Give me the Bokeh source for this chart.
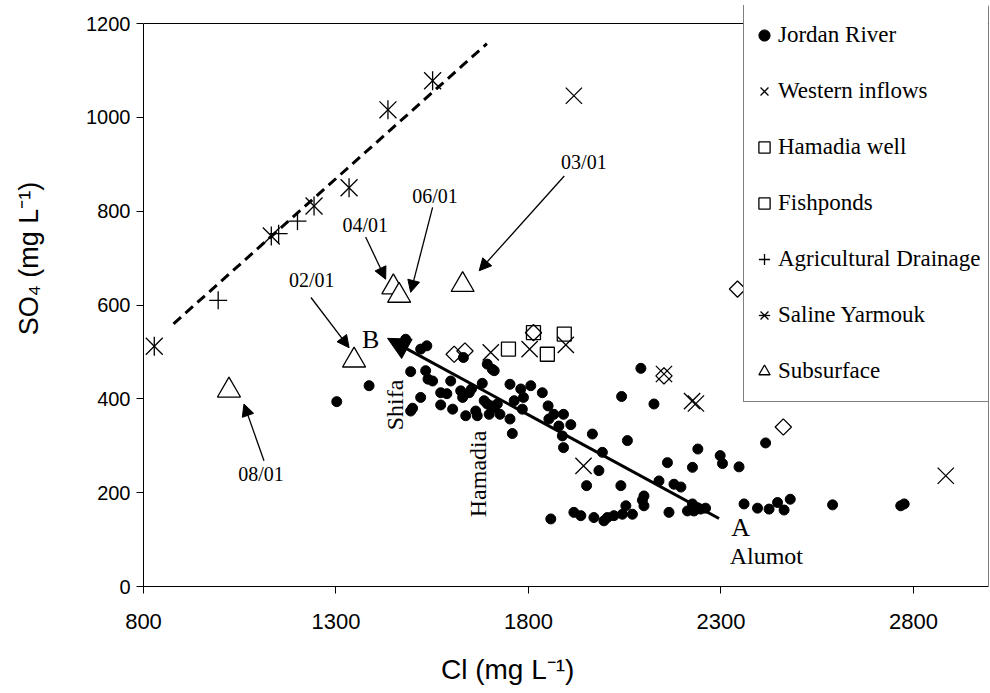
import math
from bokeh.plotting import figure
from bokeh.models import (Legend, LegendItem, Span, Arrow, NormalHead,
                          FixedTicker, Range1d)
from bokeh.core.properties import value
from bokeh.embed import file_html
from bokeh.resources import INLINE

# ---------------- data (Cl, SO4 in mg/L) ----------------
jr_cl = [1302, 1386, 1481, 1520, 1536, 1494, 1533, 1539, 1551, 1598, 1520, 1494,
         1499, 1572, 1588, 1572, 1603, 1624, 1629, 1646, 1652, 1637, 1663, 1667,
         1680, 1685, 1693, 1702, 1711, 1719, 1698, 1726, 1631, 1693, 1706, 1711,
         1752, 1780, 1806, 1787, 1763, 1752, 1758, 1836, 1851, 1784, 1866, 1853,
         1891, 1879, 1910, 1888, 1891, 1858,
         2092, 2042, 2126, 1966, 2057, 1992, 1983, 1951, 2040, 2161, 2240, 2226,
         2298, 2304, 2347, 2416, 2139, 2178, 2196, 2100, 2096, 2100, 2053, 2070,
         2044, 2022, 2005, 1996, 1970, 1936, 1918, 2165, 2213, 2226, 2239, 2247,
         2260, 2230, 2360, 2395, 2425, 2447, 2464, 2480, 2590, 2767, 2776]
jr_so4 = [394, 428, 527, 506, 513, 458, 460, 442, 438, 438, 403, 374,
          380, 413, 411, 387, 378, 417, 403, 413, 421, 364, 374, 364,
          433, 396, 389, 385, 381, 389, 367, 367, 488, 474, 463, 460,
          431, 421, 428, 403, 396, 357, 326, 413, 385, 378, 367, 357,
          367, 342, 345, 321, 296, 144,
          465, 405, 389, 325, 311, 286, 247, 215, 215, 264, 293, 254,
          279, 262, 255, 306, 225, 218, 212, 193, 184, 172, 172, 154,
          154, 151, 147, 140, 147, 151, 158, 158, 161, 176, 168, 165,
          167, 161, 176, 167, 165, 179, 163, 186, 174, 172, 176]

wi_cl = [1918, 1702, 1803, 1897, 1943, 2152, 2225, 2235, 2884]
wi_so4 = [1046, 499, 506, 515, 257, 453, 395, 390, 236]

hw_cl = [1748, 1849, 1813, 1893]
hw_so4 = [506, 495, 541, 538]

fp_cl = [1607, 1635, 1813, 2152, 2462, 2343]
fp_so4 = [495, 502, 541, 449, 340, 634]

ad_cl = [994, 1151, 1200]
ad_so4 = [610, 752, 779]

sy_cl = [828, 1132, 1243, 1334, 1435, 1551]
sy_so4 = [512, 747, 811, 850, 1016, 1078]

ss_cl = [1022, 1347, 1449, 1464, 1629]
ss_so4 = [418, 482, 638, 620, 643]

mix_cl = [878, 1692]          # dashed mixing line end points
mix_so4 = [560, 1157]

x_ticks = [800, 1300, 1800, 2300, 2800]
y_ticks = [0, 200, 400, 600, 800, 1000, 1200]
x_min, x_max = 800, 2995
y_min, y_max = 0, 1200

series_names = ["Jordan River", "Western inflows", "Hamadia well", "Fishponds",
                "Agricultural Drainage", "Saline Yarmouk", "Subsurface"]

date_labels = ["02/01", "04/01", "06/01", "03/01", "08/01"]
date_lx = [1237, 1376, 1557, 1944, 1105]
date_ly = [654, 771, 832, 904, 240]
date_ax0 = [1235, 1377, 1551, 1893, 1113]
date_ay0 = [616, 745, 808, 875, 268]
date_ax1 = [1334, 1429, 1494, 1672, 1061]
date_ay1 = [509, 655, 627, 673, 389]

# A -> B trend arrow
ab_start = (2295, 145)
ab_end = (1434, 529)

NB = "\u00a0"

# ---------------- figure ----------------
# frame reaches a little above 1200 so the legend box (which pokes above the
# 1200 line in the original) is not clipped; the 1200 border is drawn as a Span
p = figure(width=989, height=692, x_range=Range1d(x_min, x_max), y_range=Range1d(y_min, 1238.4),
           output_backend="svg", toolbar_location=None,
           min_border_left=143, min_border_right=1, min_border_top=5, min_border_bottom=106)
p.xgrid.visible = False
p.ygrid.visible = False
p.outline_line_color = None
p.background_fill_color = "white"

p.xaxis.ticker = FixedTicker(ticks=x_ticks)
p.yaxis.ticker = FixedTicker(ticks=y_ticks)
p.yaxis.bounds = (y_min, y_max)
for ax in (p.xaxis[0], p.yaxis[0]):
    ax.minor_tick_line_color = None
    ax.major_tick_in = 0
    ax.major_tick_out = 7
    ax.axis_line_color = "black"
    ax.major_tick_line_color = "black"
    ax.major_label_text_font = "Liberation Sans"
    ax.major_label_text_color = "black"
    ax.axis_label_text_font = "Liberation Sans"
    ax.axis_label_text_font_style = "normal"
    ax.axis_label_text_color = "black"
p.xaxis.major_label_text_font_size = "22px"
p.yaxis.major_label_text_font_size = "20px"
p.xaxis.major_label_standoff = 20
p.yaxis.major_label_standoff = 6

p.xaxis.axis_label = "Cl (mg L\u207b\u00b9)" + NB * 15
p.xaxis.axis_label_text_font_size = "28px"
p.xaxis.axis_label_standoff = 22
p.yaxis.axis_label = NB * 10 + "SO\u2084 (mg L\u207b\u00b9)"
p.yaxis.axis_label_text_font_size = "27px"
p.yaxis.axis_label_standoff = 39

# plot box: top and right borders
p.add_layout(Span(location=y_max, dimension="width", line_color="black", line_width=1))
p.add_layout(Span(location=x_max, dimension="height", line_color="black", line_width=1))

lw = 1.3
p.line(mix_cl, mix_so4, line_color="black", line_width=3, line_dash="10 6")

jr = p.scatter(jr_cl, jr_so4, marker="circle", size=10, fill_color="black", line_color="black")
hw = p.scatter(hw_cl, hw_so4, marker="square", size=14, fill_color=None, line_color="black", line_width=lw)
fp = p.scatter(fp_cl, fp_so4, marker="square", angle=math.pi / 4, size=11.5, fill_color=None,
               line_color="black", line_width=lw)
wi = p.scatter(wi_cl, wi_so4, marker="x", size=23, line_color="black", line_width=lw)
ad = p.scatter(ad_cl, ad_so4, marker="cross", size=18, line_color="black", line_width=lw)
sy1 = p.scatter(sy_cl, sy_so4, marker="x", size=24, line_color="black", line_width=lw)
sy2 = p.scatter(sy_cl, sy_so4, marker="dash", angle=math.pi / 2, size=19, line_color="black", line_width=lw)
ss = p.scatter(ss_cl, ss_so4, marker="triangle", size=23, fill_color="white", line_color="black", line_width=lw)

# trend arrow A -> B
p.add_layout(Arrow(end=NormalHead(size=22, fill_color="black", line_color="black"),
                   x_start=ab_start[0], y_start=ab_start[1], x_end=ab_end[0], y_end=ab_end[1],
                   line_width=3, line_color="black"))

# date arrows
for i in range(len(date_labels)):
    p.add_layout(Arrow(end=NormalHead(size=12, fill_color="black", line_color="black", line_width=1),
                       x_start=date_ax0[i], y_start=date_ay0[i], x_end=date_ax1[i], y_end=date_ay1[i],
                       line_width=1.3, line_color="black"))

serif = value("Liberation Serif")
p.text(date_lx, date_ly, text=date_labels, text_font=serif, text_font_size="20px",
       text_align="center", text_baseline="middle", text_color="black")
p.text([1390, 2351], [527, 126], text=["B", "A"], text_font=serif, text_font_size="26px",
       text_align="center", text_baseline="middle", text_color="black")
p.text([2418], [64], text=["Alumot"], text_font=serif, text_font_size="24px",
       text_align="center", text_baseline="middle", text_color="black")
p.text([1453, 1670], [387, 240], text=["Shifa", "Hamadia"], angle=math.pi / 2, text_font=serif,
       text_font_size="24px", text_align="center", text_baseline="middle", text_color="black")

legend = Legend(items=[LegendItem(label=series_names[0], renderers=[jr]),
                       LegendItem(label=series_names[1], renderers=[wi]),
                       LegendItem(label=series_names[2], renderers=[hw]),
                       LegendItem(label=series_names[3], renderers=[fp]),
                       LegendItem(label=series_names[4], renderers=[ad]),
                       LegendItem(label=series_names[5], renderers=[sy1, sy2]),
                       LegendItem(label=series_names[6], renderers=[ss])],
                location=(600, 184), glyph_width=28, glyph_height=48, label_height=48,
                label_width=205, label_standoff=0, padding=6, spacing=8, margin=0,
                label_text_font="Liberation Serif", label_text_font_size="23px",
                label_text_color="black", border_line_color="black", border_line_width=1,
                background_fill_color="white", background_fill_alpha=1.0)
p.add_layout(legend, "center")

open("out.html", "w").write(file_html(p, INLINE))
